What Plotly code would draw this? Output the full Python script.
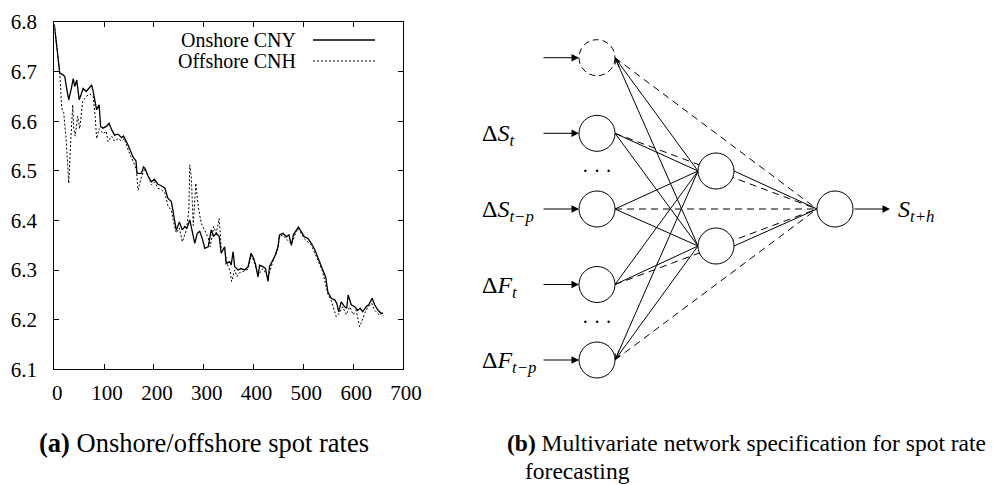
import plotly.graph_objects as go

# ---------------- data ----------------
cny_t = [0, 5, 11, 18, 21, 25, 29, 34, 38, 41, 45, 50, 54, 58, 64, 70, 75, 78, 82, 85,
         90, 93, 98, 105, 110, 115, 121, 128, 135, 139, 148, 153, 158, 164, 166, 175,
         179, 182, 188, 195, 201, 208, 215, 222, 228, 235, 242, 245, 251, 257, 262,
         266, 272, 277, 282, 287, 292, 297, 302, 309, 315, 320, 325, 331, 335, 342,
         345, 352, 355, 359, 362, 369, 375, 382, 389, 395, 400, 404, 409, 412, 419,
         424, 429, 432, 439, 444, 449, 452, 459, 466, 471, 476, 480, 486, 490, 496,
         502, 509, 516, 523, 529, 534, 539, 545, 549, 556, 563, 567, 571, 576, 583,
         587, 590, 596, 603, 609, 614, 619, 626, 631, 638, 643, 650, 656, 660]
cny_v = [6.795, 6.745, 6.697, 6.693, 6.690, 6.665, 6.643, 6.665, 6.686, 6.670, 6.683,
         6.643, 6.655, 6.666, 6.660, 6.668, 6.673, 6.660, 6.640, 6.623, 6.633, 6.589,
         6.586, 6.590, 6.596, 6.583, 6.572, 6.574, 6.567, 6.570, 6.552, 6.540, 6.528,
         6.520, 6.495, 6.495, 6.508, 6.505, 6.490, 6.478, 6.483, 6.473, 6.470, 6.465,
         6.445, 6.438, 6.394, 6.380, 6.397, 6.381, 6.388, 6.384, 6.401, 6.380, 6.354,
         6.374, 6.378, 6.364, 6.344, 6.347, 6.381, 6.368, 6.374, 6.368, 6.334, 6.347,
         6.313, 6.317, 6.310, 6.337, 6.307, 6.300, 6.303, 6.300, 6.307, 6.334, 6.324,
         6.311, 6.286, 6.310, 6.307, 6.303, 6.277, 6.307, 6.320, 6.331, 6.347, 6.371,
         6.374, 6.367, 6.371, 6.350, 6.371, 6.381, 6.387, 6.377, 6.367, 6.364, 6.354,
         6.341, 6.324, 6.310, 6.300, 6.285, 6.256, 6.243, 6.240, 6.233, 6.216, 6.236,
         6.226, 6.223, 6.250, 6.230, 6.226, 6.219, 6.223, 6.216, 6.226, 6.230, 6.243,
         6.230, 6.219, 6.213, 6.213]

cnh_t = [0, 5, 11, 15, 19, 24, 29, 33, 37, 39, 42, 47, 51, 57, 64, 71, 78, 82, 85, 90,
         98, 104, 108, 115, 121, 128, 135, 140, 151, 161, 165, 168, 175, 182, 188, 195,
         201, 208, 215, 222, 228, 235, 242, 245, 251, 257, 265, 270, 272, 275, 279,
         284, 289, 295, 302, 309, 313, 320, 325, 331, 335, 342, 347, 353, 356, 362,
         367, 372, 379, 389, 395, 400, 409, 419, 429, 439, 449, 452, 459, 466, 476,
         486, 490, 502, 516, 529, 539, 549, 556, 566, 572, 579, 586, 593, 600, 606,
         613, 616, 623, 630, 637, 643, 653, 658, 660]
cnh_v = [6.795, 6.745, 6.697, 6.626, 6.617, 6.560, 6.475, 6.560, 6.633, 6.585, 6.570,
         6.610, 6.585, 6.640, 6.650, 6.655, 6.650, 6.610, 6.565, 6.585, 6.575, 6.580,
         6.559, 6.570, 6.560, 6.565, 6.560, 6.565, 6.535, 6.513, 6.500, 6.461, 6.488,
         6.505, 6.488, 6.472, 6.478, 6.465, 6.462, 6.455, 6.430, 6.420, 6.385, 6.375,
         6.385, 6.357, 6.380, 6.420, 6.512, 6.488, 6.390, 6.475, 6.428, 6.394, 6.380,
         6.365, 6.347, 6.388, 6.374, 6.404, 6.347, 6.340, 6.313, 6.297, 6.277, 6.300,
         6.287, 6.295, 6.297, 6.302, 6.330, 6.320, 6.290, 6.303, 6.285, 6.318, 6.343,
         6.368, 6.370, 6.362, 6.352, 6.378, 6.384, 6.363, 6.350, 6.320, 6.296, 6.252,
         6.238, 6.206, 6.213, 6.226, 6.210, 6.226, 6.210, 6.219, 6.186, 6.193, 6.213,
         6.226, 6.233, 6.219, 6.209, 6.213, 6.208]

series_names = ["Onshore CNY", "Offshore CNH"]
x_ticks = [0, 100, 200, 300, 400, 500, 600, 700]
y_ticks = [6.1, 6.2, 6.3, 6.4, 6.5, 6.6, 6.7, 6.8]

caption_a = "<b>(a)</b> Onshore/offshore spot rates"
caption_b1 = "<b>(b)</b> Multivariate network specification for spot rate"
caption_b2 = "forecasting"

input_labels = ["", "Δ<i>S<sub>t</sub></i>", "Δ<i>S<sub>t−p</sub></i>",
                "Δ<i>F<sub>t</sub></i>", "Δ<i>F<sub>t−p</sub></i>"]
output_label = "<i>S<sub>t+h</sub></i>"

# ---------------- layout constants (pixels, diagram canvas) ----------------
W, H = 1000, 485
FONT = "Liberation Serif"
R = 18
IN_X, HID_X, OUT_X = 597, 716, 835
IN_Y = [57.7, 133.3, 209, 284.5, 360]
HID_Y = [171, 246]
OUT_Y = 209
DOTS_Y = [171, 322]

fig = go.Figure()

# time series
fig.add_trace(go.Scatter(x=cnh_t, y=cnh_v, mode="lines", name=series_names[1],
                         line=dict(color="black", width=1, dash="2px,2px"),
                         showlegend=False, xaxis="x", yaxis="y"))
fig.add_trace(go.Scatter(x=cny_t, y=cny_v, mode="lines", name=series_names[0],
                         line=dict(color="black", width=1.3),
                         showlegend=False, xaxis="x", yaxis="y"))

# network edges
sx, sy, dx, dy = [], [], [], []
for iy in IN_Y:
    for hy in HID_Y:
        sx += [IN_X + R, HID_X - R, None]
        sy += [iy, hy, None]
    dx += [IN_X + R, OUT_X - R, None]
    dy += [iy, OUT_Y, None]
for hy in HID_Y:
    sx += [HID_X + R, OUT_X - R, None]
    sy += [hy, OUT_Y, None]

fig.add_trace(go.Scatter(x=dx, y=dy, mode="lines", line=dict(color="black", width=1, dash="7px,5px"),
                         showlegend=False, xaxis="x2", yaxis="y2", hoverinfo="skip"))
fig.add_trace(go.Scatter(x=sx, y=sy, mode="lines", line=dict(color="black", width=1),
                         showlegend=False, xaxis="x2", yaxis="y2", hoverinfo="skip"))

shapes = []
annotations = []


def circle(cx, cy, dash="solid"):
    shapes.append(dict(type="circle", xref="x2", yref="y2", x0=cx - R, x1=cx + R,
                       y0=cy - R, y1=cy + R, line=dict(color="black", width=1, dash=dash),
                       fillcolor="white", layer="above"))


def arrow(x0, y0, x1, y1, head=2, size=1.5):
    annotations.append(dict(x=x1, y=y1, ax=x0, ay=y0, xref="x2", yref="y2", axref="x2",
                            ayref="y2", text="", showarrow=True, arrowhead=head,
                            arrowsize=size, arrowwidth=1, arrowcolor="black", standoff=0))


for i, iy in enumerate(IN_Y):
    circle(IN_X, iy, dash="6px,4px" if i == 0 else "solid")
    arrow(542, iy, IN_X - R, iy)
    if input_labels[i]:
        annotations.append(dict(x=480, y=iy + 2, xref="x2", yref="y2", text=input_labels[i],
                                showarrow=False, xanchor="left", yanchor="middle",
                                font=dict(family=FONT, size=24, color="black")))
for hy in HID_Y:
    circle(HID_X, hy)
circle(OUT_X, OUT_Y)
arrow(OUT_X + R, OUT_Y, 890, OUT_Y)
annotations.append(dict(x=896, y=OUT_Y + 2, xref="x2", yref="y2", text=output_label,
                        showarrow=False, xanchor="left", yanchor="middle",
                        font=dict(family=FONT, size=24, color="black")))
for yy in DOTS_Y:
    annotations.append(dict(x=IN_X, y=yy, xref="x2", yref="y2", text="· · ·",
                            showarrow=False, xanchor="center", yanchor="middle",
                            font=dict(family=FONT, size=20, color="black")))


# small open arrow tips at bias node and last input node
def tip(tx, ty, fx, fy):
    L = ((fx - tx) ** 2 + (fy - ty) ** 2) ** 0.5
    arrow(tx + (fx - tx) * 12 / L, ty + (fy - ty) * 12 / L, tx, ty, head=5, size=1)


tip(IN_X + R, IN_Y[0], HID_X - R, HID_Y[1])
tip(IN_X + R, IN_Y[4], HID_X - R, HID_Y[0])

# legend for left chart
leg_y = [40, 61]
for name, ly, dash, w in zip(series_names, leg_y, ["solid", "2px,2px"], [1.3, 1]):
    annotations.append(dict(x=298, y=ly, xref="x2", yref="y2", text=name, showarrow=False,
                            xanchor="right", yanchor="middle",
                            font=dict(family=FONT, size=20, color="black")))
    shapes.append(dict(type="line", xref="x2", yref="y2", x0=313, x1=375, y0=ly, y1=ly,
                       line=dict(color="black", width=w, dash=dash)))

# captions
annotations.append(dict(x=37, y=443, xref="x2", yref="y2", text=caption_a, showarrow=False,
                        xanchor="left", yanchor="middle",
                        font=dict(family=FONT, size=26.5, color="black")))
annotations.append(dict(x=505, y=443, xref="x2", yref="y2", text=caption_b1, showarrow=False,
                        xanchor="left", yanchor="middle",
                        font=dict(family=FONT, size=23.5, color="black")))
annotations.append(dict(x=523, y=471, xref="x2", yref="y2", text=caption_b2, showarrow=False,
                        xanchor="left", yanchor="middle",
                        font=dict(family=FONT, size=23.5, color="black")))

axis_font = dict(family=FONT, size=21, color="black")
fig.update_layout(
    template="none",
    width=W, height=H, margin=dict(l=0, r=0, t=0, b=0, pad=0, autoexpand=False),
    paper_bgcolor="white", plot_bgcolor="rgba(0,0,0,0)",
    showlegend=False,
    xaxis=dict(domain=[54.3 / W, 403 / W], range=[0, 700], tickvals=x_ticks,
               ticks="inside", ticklen=5, tickcolor="black", showline=True, mirror="ticks",
               linecolor="black", linewidth=1, showgrid=False, zeroline=False,
               automargin=False,
               tickfont=axis_font, ticklabelstandoff=4, ticklabelshift=3, anchor="y"),
    yaxis=dict(domain=[1 - 369.3 / H, 1 - 22 / H], range=[6.1, 6.8], tickvals=y_ticks,
               ticktext=[f"{v:.1f}" for v in y_ticks],
               ticks="inside", ticklen=5, tickcolor="black", showline=True, mirror="ticks",
               linecolor="black", linewidth=1, showgrid=False, zeroline=False,
               automargin=False,
               tickfont=axis_font, ticklabelstandoff=12, anchor="x"),
    xaxis2=dict(domain=[0, 1], range=[0, W], visible=False, anchor="y2", fixedrange=True,
                automargin=False),
    yaxis2=dict(domain=[0, 1], range=[H, 0], visible=False, anchor="x2", fixedrange=True,
                automargin=False),
    shapes=shapes, annotations=annotations,
)

fig.write_html("out.html")
